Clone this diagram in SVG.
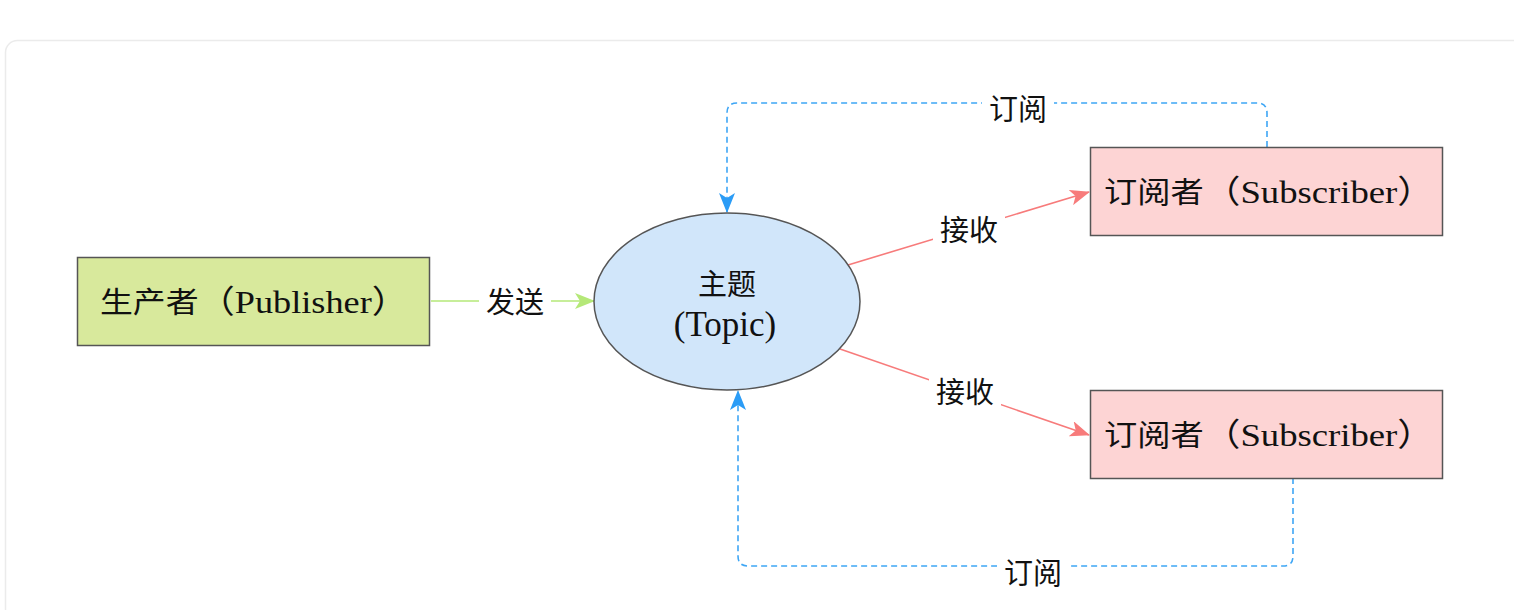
<svg xmlns="http://www.w3.org/2000/svg" width="1514" height="610" viewBox="0 0 1514 610">
  <defs>
    <style>
      .node { stroke: #555555; stroke-width: 1.5; }
      .t { font-family: "Liberation Serif", "Noto Sans CJK SC", serif; fill: #111111; }
      .lat { font-size: 32px; }
      .lbl { font-family: "Liberation Serif", "Noto Sans CJK SC", serif; fill: #111111; font-size: 29px; text-anchor: middle; }
      .dash { fill: none; stroke: #3ea6f5; stroke-width: 1.6; stroke-dasharray: 6 4; }
    </style>
    <marker id="ag" viewBox="0 0 20 16" refX="19" refY="8" markerWidth="20" markerHeight="16" markerUnits="userSpaceOnUse" orient="auto">
      <path d="M0,0 L20,8 L0,16 L5,8 z" fill="#b5e878"/>
    </marker>
    <marker id="ar" viewBox="0 0 20 16" refX="19" refY="8" markerWidth="20" markerHeight="16" markerUnits="userSpaceOnUse" orient="auto">
      <path d="M0,0 L20,8 L0,16 L5,8 z" fill="#f77b7b"/>
    </marker>
    <marker id="ab" viewBox="0 0 20 16" refX="19" refY="8" markerWidth="20" markerHeight="16" markerUnits="userSpaceOnUse" orient="auto">
      <path d="M0,0 L20,8 L0,16 L5,8 z" fill="#2b9cf6"/>
    </marker>
  </defs>
  <rect x="0" y="0" width="1514" height="610" fill="#ffffff"/>
  <rect x="5.5" y="40.5" width="1530" height="580" rx="12" fill="#ffffff" stroke="#ebebeb" stroke-width="1.5"/>

  <g id="connectors">
    <line x1="431" y1="301" x2="594" y2="301" stroke="#b5e878" stroke-width="1.6" marker-end="url(#ag)"/>
    <line x1="848" y1="265" x2="1089" y2="192" stroke="#f77b7b" stroke-width="1.6" marker-end="url(#ar)"/>
    <line x1="840" y1="349" x2="1089" y2="435" stroke="#f77b7b" stroke-width="1.6" marker-end="url(#ar)"/>
    <path class="dash" d="M1267,147 V113 Q1267,103 1257,103 H737 Q727,103 727,113 V212" marker-end="url(#ab)"/>
    <path class="dash" d="M1293,478 V556 Q1293,566 1283,566 H748 Q738,566 738,556 V391" marker-end="url(#ab)"/>
    <rect x="479" y="285" width="72" height="34" fill="#ffffff"/>
    <text class="lbl" x="515" y="313">发送</text>
    <rect x="933" y="213" width="72" height="34" fill="#ffffff"/>
    <text class="lbl" x="969" y="241">接收</text>
    <rect x="929" y="375" width="72" height="34" fill="#ffffff"/>
    <text class="lbl" x="965" y="403">接收</text>
    <rect x="982" y="92" width="72" height="34" fill="#ffffff"/>
    <text class="lbl" x="1018" y="120">订阅</text>
    <rect x="997" y="555" width="72" height="34" fill="#ffffff"/>
    <text class="lbl" x="1033" y="584">订阅</text>
  </g>

  <g id="publisher">
    <rect class="node" x="77.5" y="257.5" width="352" height="88" fill="#d8e99c"/>
    <text class="t" x="100" y="313" font-size="29" textLength="308" lengthAdjust="spacingAndGlyphs">生产者<tspan class="lat">（Publisher）</tspan></text>
  </g>

  <g id="topic">
    <ellipse class="node" cx="727" cy="301.5" rx="133" ry="88.5" fill="#d1e6fa"/>
    <text class="t" x="727" y="295" font-size="29" text-anchor="middle">主题</text>
    <text class="t" x="725" y="336" font-size="35" text-anchor="middle">(Topic)</text>
  </g>

  <g id="subscriber1">
    <rect class="node" x="1090.5" y="147.5" width="352" height="88" fill="#fdd4d4"/>
    <text class="t" x="1104" y="203" font-size="29" textLength="330" lengthAdjust="spacingAndGlyphs">订阅者<tspan class="lat">（Subscriber）</tspan></text>
  </g>

  <g id="subscriber2">
    <rect class="node" x="1090.5" y="390.5" width="352" height="88" fill="#fdd4d4"/>
    <text class="t" x="1104" y="446" font-size="29" textLength="330" lengthAdjust="spacingAndGlyphs">订阅者<tspan class="lat">（Subscriber）</tspan></text>
  </g>
</svg>
